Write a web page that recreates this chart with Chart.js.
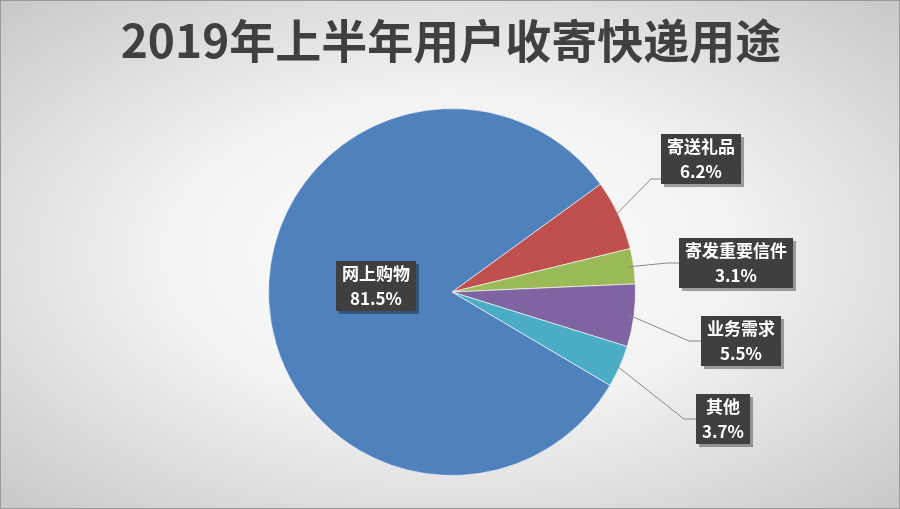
<!DOCTYPE html>
<html><head><meta charset="utf-8">
<script src="https://cdn.jsdelivr.net/npm/chart.js@4/dist/chart.umd.min.js"></script>
<style>
html,body{margin:0;padding:0;}
#wrap{width:900px;height:509px;background:radial-gradient(ellipse at 50% 50%, #ffffff 0%, #f2f2f2 45%, #c8c8c8 100%);box-sizing:border-box;border:1px solid #999;}
</style></head><body>
<div id="wrap"><canvas id="c" width="898" height="507"></canvas></div>
<script>
const categories = ['寄送礼品','寄发重要信件','业务需求','其他','网上购物'];
const values = [6.2, 3.1, 5.5, 3.7, 81.5];
const valueLabels = ['6.2%','3.1%','5.5%','3.7%','81.5%'];
const colors = ['#C0504D','#9BBB59','#8064A2','#4BACC6','#4F81BD'];
// label box centres (style)
const labelPos = [[700,158],[735,262],[740,340],[722,418],[375,285]];

const labelPlugin = {
  id:'labels',
  afterDraw(chart){
    const ctx = chart.ctx;
    ctx.save();
    ctx.font = 'bold 46px "Noto Sans CJK SC", sans-serif';
    ctx.fillStyle = '#404040';
    ctx.textAlign='center'; ctx.textBaseline='middle';
    ctx.fillText('2019年上半年用户收寄快递用途', 450, 40);
    const arcs = chart.getDatasetMeta(0).data;
    ctx.font = 'bold 17px "Noto Sans CJK SC", sans-serif';
    arcs.forEach((a,i)=>{
      const [bx,by] = labelPos[i];
      const t1 = categories[i], t2 = valueLabels[i];
      const w = Math.max(ctx.measureText(t1).width, ctx.measureText(t2).width) + 12;
      const h = 50;
      if (i < 4) {
        const mid = (a.startAngle + a.endAngle)/2;
        const sx = a.x + Math.cos(mid)*a.outerRadius*0.97, sy = a.y + Math.sin(mid)*a.outerRadius*0.97;
        const ex = bx - w/2, ey = by + (i===0? h/2-5 : 0);
        ctx.strokeStyle='#888'; ctx.lineWidth=1;
        ctx.beginPath(); ctx.moveTo(sx,sy);
        if (i===0) { ctx.lineTo(ex-10, ey); ctx.lineTo(ex, ey); }
        else { ctx.lineTo(ex-12, ey); ctx.lineTo(ex, ey); }
        ctx.stroke();
      }
      ctx.fillStyle='rgba(0,0,0,0.35)';
      ctx.fillRect(bx-w/2+3, by-h/2+3, w, h);
      ctx.fillStyle='#3f3f3f';
      ctx.fillRect(bx-w/2, by-h/2, w, h);
      ctx.fillStyle='#ffffff';
      ctx.fillText(t1, bx, by-12);
      ctx.fillText(t2, bx, by+13);
    });
    ctx.restore();
  }
};

new Chart(document.getElementById('c'), {
  type:'pie',
  data:{labels:categories, datasets:[{data:values, backgroundColor:colors, borderColor:'rgba(255,255,255,0.6)', borderWidth:1}]},
  options:{
    responsive:false, animation:false, rotation:54,
    layout:{padding:{top:107,bottom:32,left:267,right:263}},
    plugins:{legend:{display:false}, tooltip:{enabled:false}, title:{display:false}}
  },
  plugins:[labelPlugin]
});
</script></body></html>
